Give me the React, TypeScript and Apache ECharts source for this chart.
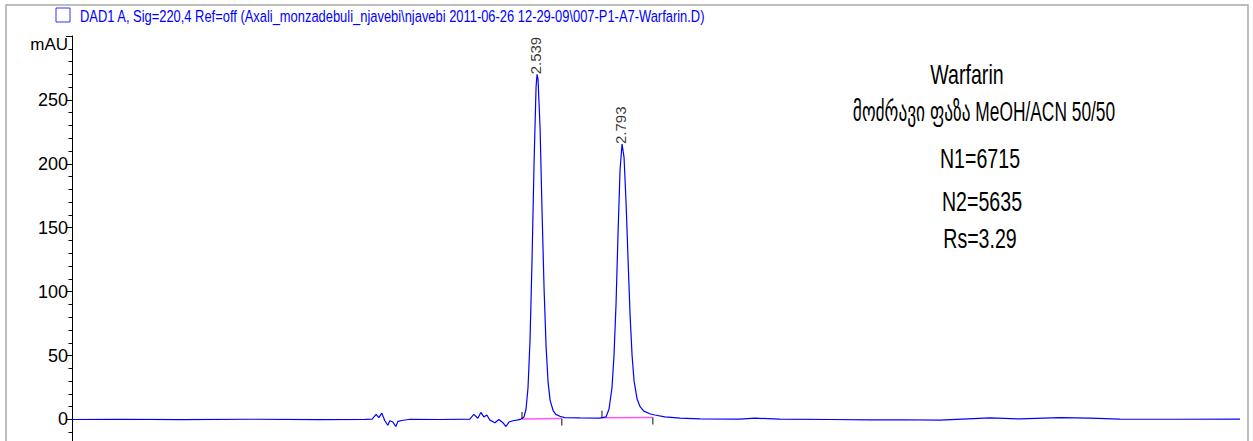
import React, { useEffect, useRef } from 'react';
import * as echarts from 'echarts';

const signalTitle =
  'DAD1 A, Sig=220,4 Ref=off (Axali_monzadebuli_njavebi\\njavebi 2011-06-26 12-29-09\\007-P1-A7-Warfarin.D)';

// chromatogram trace: retention time (min) and absorbance (mAU)
const timeMin = [
  1.149, 1.292, 1.472, 1.681, 1.89, 2.025, 2.046, 2.058, 2.066, 2.075, 2.084, 2.093, 2.099, 2.108, 2.117, 2.123,
  2.135, 2.159, 2.249, 2.338, 2.35, 2.362, 2.371, 2.38, 2.389, 2.398, 2.413, 2.425, 2.437, 2.446, 2.455, 2.467,
  2.482, 2.491, 2.5, 2.506, 2.512, 2.518, 2.524, 2.53, 2.536, 2.539, 2.542, 2.548, 2.554, 2.56, 2.566, 2.572,
  2.578, 2.587, 2.595, 2.607, 2.622, 2.667, 2.727, 2.745, 2.754, 2.763, 2.769, 2.775, 2.781, 2.787, 2.793,
  2.799, 2.805, 2.811, 2.817, 2.823, 2.829, 2.838, 2.847, 2.858, 2.876, 2.891, 2.921, 2.966, 3.026, 3.145,
  3.19, 3.265, 3.414, 3.534, 3.624, 3.743, 3.893, 3.982, 4.102, 4.192, 4.281, 4.46, 4.64,
];
const absorbance = [
  0, 0.2, -0.1, 0.2, -0.1, 0.1, 0.3, 4, 1.5, 5, -1, -4.5, -1, -2, -5.5, -1.5,
  -0.8, 0.2, 0, 0.3, 4, 1, 5.5, 2, 3.5, -0.5, -2.5, 0, -2.5, -5.5, -2, -1,
  -0.3, 0.3, 2, 8, 25, 62, 125, 200, 260, 270, 266, 228, 162, 102, 57, 29,
  15, 7, 4, 2.5, 1.5, 1.2, 1.1, 2, 8, 25, 50, 90, 145, 195, 215.5,
  205, 170, 125, 82, 50, 30, 16, 10, 6.5, 4.5, 3.5, 2, 1, 0.5, 0.3,
  1, 0.3, 0, -0.3, -0.2, -0.5, 1.2, 0.4, 1.5, 1, 0.3, 0.2, 0.3,
];

// peaks
const peakTimes = [2.539, 2.793];
const peakHeights = [270, 215.5];
const peakLabels = ['2.539', '2.793'];

// integration baselines (start, end)
const baseStartTime = [2.494, 2.733];
const baseStartAbs = [0.3, 1.3];
const baseEndTime = [2.613, 2.885];
const baseEndAbs = [0.8, 1.5];

// annotation block
const annotationLines = ['Warfarin', 'მოძრავი ფაზა MeOH/ACN 50/50', 'N1=6715', 'N2=5635', 'Rs=3.29'];

// axis
const yMin = -50;
const yMax = 300;
const yStep = 50;
const xMin = 1.149;
const xMax = 4.64;
const yUnit = 'mAU';

const FONT = "'Liberation Sans', Arial, 'DejaVu Sans', sans-serif";
const NARROW = "'Liberation Sans Narrow', 'Arial Narrow', 'Liberation Sans', sans-serif";

export default function App() {
  const ref = useRef<HTMLDivElement>(null);

  useEffect(() => {
    document.body.style.margin = '0';
    document.body.style.overflow = 'hidden';
    const chart = echarts.init(ref.current!, undefined, { renderer: 'svg' });

    const trace = timeMin.map((t, i) => [t, absorbance[i]]);
    const baselines = baseStartTime.map((t, i) => ({
      type: 'line',
      silent: true,
      showSymbol: false,
      data: [
        [t, baseStartAbs[i]],
        [baseEndTime[i], baseEndAbs[i]],
      ],
      lineStyle: { color: '#ff55ff', width: 1.5 },
      z: 3,
    }));

    const annoPos = [
      [967, 74, 0.7],
      [984, 111, 0.62],
      [980, 158, 0.7],
      [982, 201, 0.7],
      [980, 238, 0.7],
    ];

    chart.setOption({
      animation: false,
      backgroundColor: '#fff',
      grid: {
        left: 72,
        right: 13,
        top: 36,
        bottom: 0.6,
        containLabel: false,
        outerBoundsMode: 'none',
      },
      xAxis: { type: 'value', min: xMin, max: xMax, show: false },
      yAxis: {
        type: 'value',
        min: yMin,
        max: yMax,
        interval: yStep,
        axisLine: { show: true, lineStyle: { color: '#000', width: 1 } },
        axisTick: { show: true, length: 6, lineStyle: { color: '#000' } },
        minorTick: { show: true, splitNumber: 5, length: 3.5, lineStyle: { color: '#000' } },
        splitLine: { show: false },
        axisLabel: {
          margin: 4,
          color: '#000',
          fontFamily: NARROW,
          fontSize: 18,
          showMaxLabel: true,
          showMinLabel: false,
          formatter: (v: number) => (v === yMax ? '{u|' + yUnit + '}' : v < 0 ? '' : String(v)),
          rich: { u: { fontFamily: NARROW, fontSize: 17, color: '#000', padding: [16, 0, 0, 0] } },
        },
      },
      series: [
        {
          type: 'line',
          silent: true,
          showSymbol: false,
          data: trace,
          lineStyle: { color: '#0000ff', width: 1.2 },
          z: 4,
        },
        ...baselines,
        {
          type: 'scatter',
          silent: true,
          symbol: 'rect',
          symbolSize: [1.2, 7],
          symbolOffset: [0, -3.5],
          itemStyle: { color: '#000' },
          data: baseStartTime.map((t, i) => [t, baseStartAbs[i]]),
          z: 5,
        },
        {
          type: 'scatter',
          silent: true,
          symbol: 'rect',
          symbolSize: [1.2, 7],
          symbolOffset: [0, 3.5],
          itemStyle: { color: '#000' },
          data: baseEndTime.map((t, i) => [t, baseEndAbs[i]]),
          z: 5,
        },
        {
          type: 'scatter',
          silent: true,
          symbolSize: 0,
          data: peakTimes.map((t, i) => ({ name: peakLabels[i], value: [t, peakHeights[i]] })),
          label: {
            show: true,
            position: 'inside',
            rotate: 90,
            align: 'left',
            verticalAlign: 'bottom',
            offset: [0, 6],
            formatter: '{b}',
            fontFamily: NARROW,
            fontSize: 15,
            color: '#000',
          },
          z: 6,
        },
      ],
      graphic: [
        {
          type: 'rect',
          shape: { x: 6, y: 5, width: 1242, height: 445 },
          style: { fill: 'none', stroke: '#a8a8a8', lineWidth: 1.5 },
          silent: true,
          z: 0,
        },
        {
          type: 'rect',
          shape: { x: 56, y: 8, width: 14, height: 14 },
          style: { fill: '#fff', stroke: '#3030ff', lineWidth: 1 },
          silent: true,
        },
        {
          type: 'text',
          x: 80,
          y: 16,
          scaleX: 0.76,
          style: {
            text: signalTitle,
            font: `17px ${FONT}`,
            fill: '#0000ff',
            textAlign: 'left',
            textVerticalAlign: 'middle',
          },
          silent: true,
        },
        ...annotationLines.map((txt, i) => ({
          type: 'text',
          x: annoPos[i][0],
          y: annoPos[i][1],
          scaleX: annoPos[i][2],
          style: {
            text: txt,
            font: `28px ${FONT}`,
            fill: '#000',
            textAlign: 'center',
            textVerticalAlign: 'middle',
          },
          silent: true,
        })),
      ],
    });

    return () => chart.dispose();
  }, []);

  return (
    <div style={{ width: 1253, height: 441, overflow: 'hidden' }}>
      <div ref={ref} style={{ width: 1253, height: 484 }} />
    </div>
  );
}
